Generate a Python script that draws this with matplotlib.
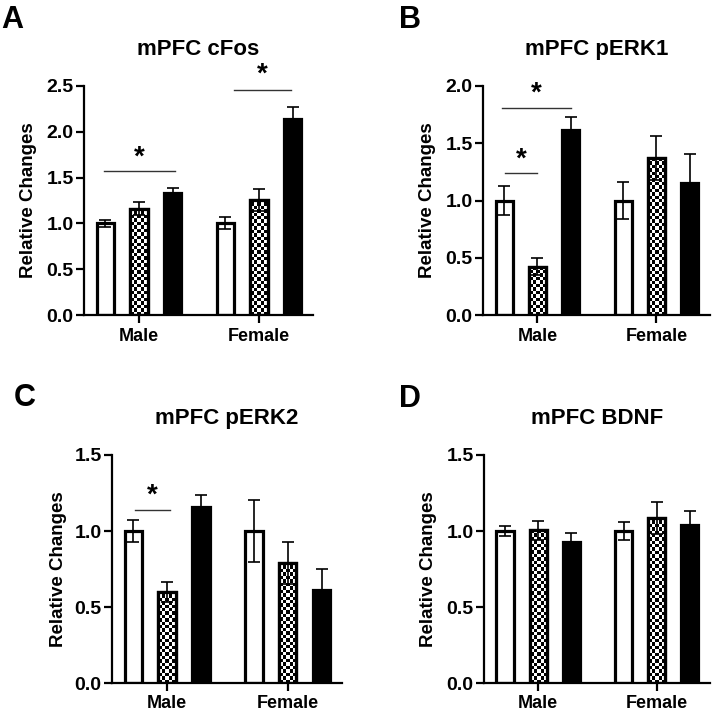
import numpy as np
import matplotlib.pyplot as plt

plt.rcParams['font.family'] = ['Liberation Sans', 'DejaVu Sans']
plt.rcParams['font.weight'] = 'bold'

groups = ['Male', 'Female']

# per panel: means / SEM in order [white, checker, black] for Male then Female
cfos_mean = [1.00, 1.16, 1.33, 1.00, 1.26, 2.14]
cfos_sem = [0.04, 0.07, 0.055, 0.065, 0.12, 0.13]
perk1_mean = [1.00, 0.42, 1.62, 1.00, 1.37, 1.155]
perk1_sem = [0.13, 0.075, 0.11, 0.16, 0.19, 0.25]
perk2_mean = [1.00, 0.60, 1.155, 1.00, 0.79, 0.61]
perk2_sem = [0.075, 0.066, 0.08, 0.205, 0.14, 0.14]
bdnf_mean = [1.00, 1.004, 0.93, 1.00, 1.087, 1.04]
bdnf_sem = [0.03, 0.06, 0.06, 0.06, 0.105, 0.09]

# significance bars: (x start, x end, y line, y star)
cfos_sig = [(-0.29, 0.30, 1.57, 1.72), (0.79, 1.27, 2.46, 2.62)]
perk1_sig = [(-0.30, 0.28, 1.81, 1.93), (-0.27, 0.0, 1.24, 1.36)]
perk2_sig = [(-0.27, 0.02, 1.14, 1.23)]
bdnf_sig = []

panels = [
    ('A', 'mPFC cFos', cfos_mean, cfos_sem, cfos_sig, 2.5, [0, 0.5, 1.0, 1.5, 2.0, 2.5],
     [84, 313, 86, 315], (1, 5), -0.205),
    ('B', 'mPFC pERK1', perk1_mean, perk1_sem, perk1_sig, 2.0, [0, 0.5, 1.0, 1.5, 2.0],
     [483, 710, 86, 315], (399, 5), -0.207),
    ('C', 'mPFC pERK2', perk2_mean, perk2_sem, perk2_sig, 1.5, [0, 0.5, 1.0, 1.5],
     [112, 342, 455, 683], (14, 383), -0.196),
    ('D', 'mPFC BDNF', bdnf_mean, bdnf_sem, bdnf_sig, 1.5, [0, 0.5, 1.0, 1.5],
     [484, 710, 455, 683], (399, 384), -0.208),
]

W, H = 714, 713
fig = plt.figure(figsize=(W / 100, H / 100), dpi=100)

offsets = [-0.28, 0.0, 0.28]
bw = 0.145
gx = np.arange(len(groups))


def checker(ax, patch, sq_px=3.4):
    x, y = patch.get_x(), patch.get_y()
    w, h = patch.get_width(), patch.get_height()
    p0 = ax.transData.transform((x, y))
    p1 = ax.transData.transform((x + w, y + h))
    nc = max(1, int(round((p1[0] - p0[0]) / sq_px)))
    nr = max(1, int(round((p1[1] - p0[1]) / sq_px)))
    arr = (np.add.outer(np.arange(nr), np.arange(nc)) % 2).astype(float)
    im = ax.imshow(arr, extent=[x, x + w, y, y + h], cmap='gray', origin='lower',
                   interpolation='nearest', aspect='auto', zorder=2.1)
    im.set_clip_path(patch)


for letter, title, mean, sem, sig, ymax, yticks, box, lpos, ylx in panels:
    l, r, t, b = box
    ax = fig.add_axes([l / W, 1 - b / H, (r - l) / W, (b - t) / H])
    ax.set_xlim(-0.458, 1.45)
    ax.set_ylim(0, ymax)
    mean = np.array(mean).reshape(2, 3)
    sem = np.array(sem).reshape(2, 3)
    faces = ['white', 'white', 'black']
    for k in range(3):
        xs = gx + offsets[k]
        bars = ax.bar(xs, mean[:, k], width=bw, color=faces[k], edgecolor='black',
                      linewidth=2.3, zorder=2)
        if k == 1:
            for p in bars:
                checker(ax, p)
            ax.bar(xs, mean[:, k], width=bw, fill=False, edgecolor='black',
                   linewidth=2.3, zorder=2.2)
        ax.errorbar(xs, mean[:, k], yerr=sem[:, k], fmt='none', ecolor='black',
                    elinewidth=1.2, capsize=4, capthick=1.2, zorder=3)
    ax.set_xlim(-0.458, 1.45)
    ax.set_ylim(0, ymax)
    for x0, x1, yl, ys in sig:
        ax.plot([x0, x1], [yl, yl], color='#333333', lw=1, clip_on=False)
        ax.text((x0 + x1) / 2, ys, '*', ha='center', va='center', fontsize=20,
                fontweight='bold', clip_on=False)
    ax.spines['top'].set_visible(False)
    ax.spines['right'].set_visible(False)
    ax.spines['left'].set_linewidth(1.6)
    ax.spines['bottom'].set_linewidth(1.6)
    ax.set_xticks(gx)
    ax.set_xticklabels(groups, fontsize=13, fontweight='bold')
    ax.set_yticks(yticks)
    ax.set_yticklabels([f'{v:.1f}' for v in yticks], fontsize=14, fontweight='bold')
    ax.tick_params(axis='both', length=6, width=1.6, color='black')
    ax.tick_params(axis='y', pad=1.5)
    ax.tick_params(axis='x', pad=3)
    ax.set_ylabel('Relative Changes', fontsize=13.5, fontweight='bold')
    ax.yaxis.set_label_coords(ylx, 0.5)
    ax.set_title(title, fontsize=16, fontweight='bold', pad=22)
    fig.text(lpos[0] / W, 1 - lpos[1] / H, letter, fontsize=22, fontweight='bold',
             ha='left', va='top')

fig.savefig('out.png', dpi=100)
